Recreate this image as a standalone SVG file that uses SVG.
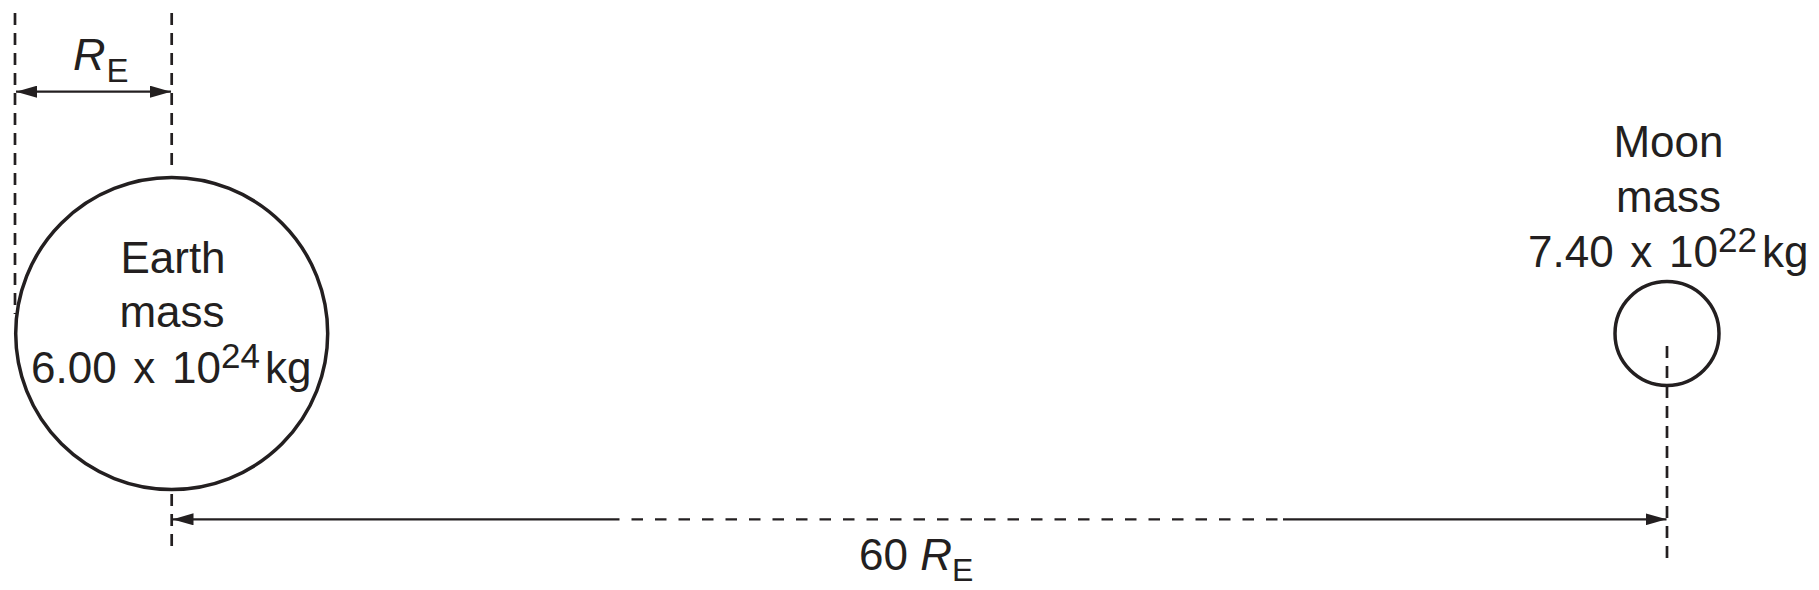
<svg xmlns="http://www.w3.org/2000/svg" width="1819" height="590" viewBox="0 0 1819 590">
  <style>
    .txt { font-family: "Liberation Sans", Arial, sans-serif; font-size: 44px; fill: #231f20; }
    .mid { text-anchor: middle; }
    .mass { word-spacing: 4.5px; }
    .body { fill: none; stroke: #231f20; stroke-width: 3.5; }
    .guide { fill: none; stroke: #231f20; stroke-width: 2.7; stroke-dasharray: 12 8; }
    .dim { fill: none; stroke: #231f20; stroke-width: 2.2; }
    .dimdash { fill: none; stroke: #231f20; stroke-width: 2.2; stroke-dasharray: 11.5 12; }
  </style>
  <defs>
    <marker id="arrow" viewBox="0 0 21 12" refX="21" refY="6" markerUnits="userSpaceOnUse" markerWidth="21" markerHeight="12" orient="auto-start-reverse">
      <path d="M0,0 L21,6 L0,12 z" fill="#231f20"/>
    </marker>
  </defs>
  <rect width="1819" height="590" fill="#ffffff"/>

  <g id="earth">
    <circle class="body" cx="171.7" cy="333.5" r="156"/>
    <text class="txt mid" x="173" y="273">Earth</text>
    <text class="txt mid" x="172" y="327">mass</text>
    <text class="txt mass" x="31" y="383">6.00 x 10<tspan font-size="35" dy="-15">24</tspan><tspan dx="5" dy="15">kg</tspan></text>
  </g>

  <g id="moon">
    <circle class="body" cx="1667" cy="333.5" r="52"/>
    <text class="txt mid" x="1668.5" y="157">Moon</text>
    <text class="txt mid" x="1668.5" y="211.7">mass</text>
    <text class="txt mass" x="1528" y="266.7">7.40 x 10<tspan font-size="35" dy="-15">22</tspan><tspan dx="5" dy="15">kg</tspan></text>
  </g>

  <g id="connectors">
    <line class="guide" x1="15" y1="13" x2="15" y2="314"/>
    <line class="guide" x1="171.7" y1="13" x2="171.7" y2="172"/>
    <line class="guide" x1="171.7" y1="494" x2="171.7" y2="550"/>
    <line class="guide" x1="1667" y1="346" x2="1667" y2="565"/>
    <line class="dim" x1="16" y1="91.7" x2="171" y2="91.7" marker-start="url(#arrow)" marker-end="url(#arrow)"/>
    <line class="dim" x1="172.5" y1="519.3" x2="608" y2="519.3" marker-start="url(#arrow)"/>
    <line class="dimdash" x1="608" y1="519.3" x2="1283" y2="519.3"/>
    <line class="dim" x1="1283" y1="519.3" x2="1666.5" y2="519.3" marker-end="url(#arrow)"/>
  </g>

  <g id="labels">
    <text class="txt" x="73" y="70"><tspan font-style="italic" font-size="45">R</tspan><tspan font-size="33" dx="1" dy="12">E</tspan></text>
    <text class="txt" x="859" y="570">60 <tspan font-style="italic">R</tspan><tspan font-size="32" dy="11">E</tspan></text>
  </g>
</svg>
